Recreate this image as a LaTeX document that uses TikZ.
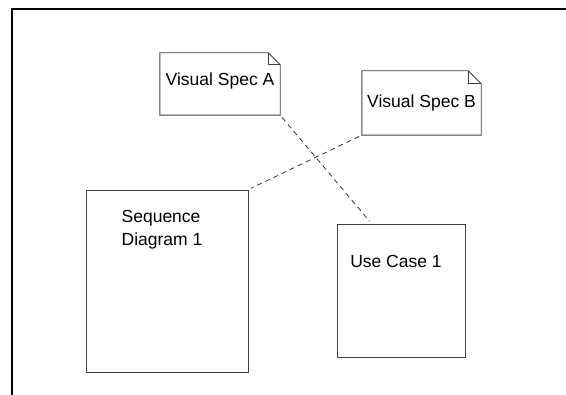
\documentclass[tikz,border=0pt]{standalone}
\usepackage{fontspec}
\setmainfont{Liberation Sans}
\usetikzlibrary{positioning, calc}

\tikzset{
  specbox/.style = {minimum width=120pt, minimum height=62pt, inner sep=0pt,
                    font=\fontsize{17.5}{23}\selectfont},
  diagbox/.style = {draw=black!75, line width=0.9pt, inner sep=0pt},
  caption/.style = {align=left, inner sep=0pt, font=\fontsize{17.5}{23}\selectfont},
  link/.style    = {draw=black!80, line width=0.8pt, dash pattern=on 5pt off 4pt,
                    shorten <=3pt, shorten >=3pt}
}

\begin{document}
\begin{tikzpicture}[x=1pt, y=-1pt]
	\useasboundingbox (0,0) rectangle (566,395);
	% outer frame, open on the right and bottom
	\draw[line width=2.2pt] (566,9) -- (12,9) -- (12,395);

	% the two spec notes
	\node[specbox] (specA) at (220,84) {};
	\node[specbox, minimum height=0pt] (specAtext) at (220,81) {Visual Spec A};
	\draw[diagbox] (specA.north west) -- ($(specA.north east)+(-12,0)$) -- ($(specA.north east)+(0,12)$)
		-- (specA.south east) -- (specA.south west) -- cycle;
	\draw[diagbox] ($(specA.north east)+(-12,0)$) |- ($(specA.north east)+(0,12)$);

	\node[specbox, minimum width=119pt, minimum height=64pt] (specB) at (421.5,103) {Visual Spec B};
	\draw[diagbox] (specB.north west) -- ($(specB.north east)+(-13,0)$) -- ($(specB.north east)+(0,13)$)
		-- (specB.south east) -- (specB.south west) -- cycle;
	\draw[diagbox] ($(specB.north east)+(-13,0)$) |- ($(specB.north east)+(0,13)$);

	% diagram boxes
	\node[diagbox, minimum width=162pt, minimum height=182pt] (seq) at (167,281) {};
	\node[caption, below=21pt of seq.north, xshift=-5pt] (seqtext) {Sequence\\Diagram 1};

	\node[diagbox, minimum width=128pt, minimum height=133pt] (uc) at (401,290.5) {};
	\node[caption, below=32pt of uc.north, xshift=-5pt] (uctext) {Use Case 1};

	% dashed links
	\draw[link] (specA.south east) -- ($(uc.north west)+(35,0)$);
	\draw[link] (specB.south west) -- (seq.north east);
\end{tikzpicture}
\end{document}
